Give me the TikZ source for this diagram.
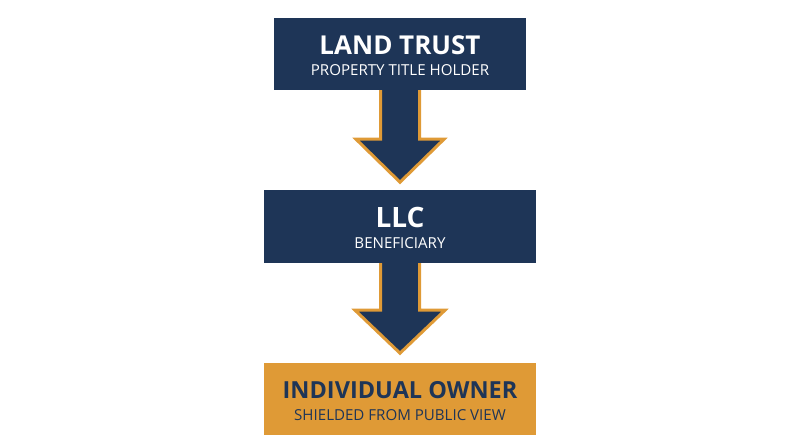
\documentclass[tikz,border=0pt]{standalone}
\usepackage{fontspec}
\setmainfont{Open Sans}
\usetikzlibrary{calc}
\definecolor{navy}{HTML}{1E3557}
\definecolor{gold}{HTML}{DF9A36}
\tikzset{
  box/.style={rectangle, inner sep=0pt, minimum width=#1, minimum height=73pt},
  navybox/.style={box=#1, fill=navy},
  goldbox/.style={box=#1, fill=gold},
  titletext/.style={font=\bfseries\fontsize{#1}{28}\selectfont, inner sep=0pt, anchor=center},
  subtext/.style={font=\fontsize{15.1}{18}\selectfont, inner sep=0pt, anchor=center},
  downarrow/.style={fill=navy, draw=gold, line width=3pt, line join=miter},
}
\begin{document}
\begin{tikzpicture}[x=1pt,y=-1pt]
\useasboundingbox (0,0) rectangle (800,447);
\path (400,54) coordinate (c1) (400,226.5) coordinate (c2) (400,399) coordinate (c3);
\node[box=252pt, minimum height=72pt] (b1) at (c1) {};
\node[box=272pt, minimum height=73pt] (b2) at (c2) {};
% arrows
\draw[downarrow] ($(b1.south)+(-19.5,-2)$) -- ($(b1.south)+(-19.5,49)$) -- ($(b1.south)+(-44,49)$) -- ($(b1.south)+(0,92)$) -- ($(b1.south)+(44,49)$) -- ($(b1.south)+(19.5,49)$) -- ($(b1.south)+(19.5,-2)$);
\draw[downarrow] ($(b2.south)+(-19.5,-2)$) -- ($(b2.south)+(-19.5,47)$) -- ($(b2.south)+(-45,47)$) -- ($(b2.south)+(0,90)$) -- ($(b2.south)+(45,47)$) -- ($(b2.south)+(19.5,47)$) -- ($(b2.south)+(19.5,-2)$);
% box fills on top
\node[navybox=252pt, minimum height=72pt] at (c1) {};
\node[navybox=272pt] at (c2) {};
\node[goldbox=272pt, minimum height=72pt] (b3) at (c3) {};
% texts
\node[titletext=26, text=white] (t1) at ($(c1)+(0,-9)$) {LAND TRUST};
\node[subtext, text=white] (s1) at ($(c1)+(0,16)$) {PROPERTY TITLE HOLDER};
\node[titletext=28, text=white] (t2) at ($(c2)+(0,-9.5)$) {LLC};
\node[subtext, text=white] (s2) at ($(c2)+(0,16.5)$) {BENEFICIARY};
\node[titletext=23.5, text=navy] (t3) at ($(c3)+(0,-9)$) {INDIVIDUAL OWNER};
\node[subtext, text=navy] (s3) at ($(c3)+(0,16)$) {SHIELDED FROM PUBLIC VIEW};
\end{tikzpicture}
\end{document}
